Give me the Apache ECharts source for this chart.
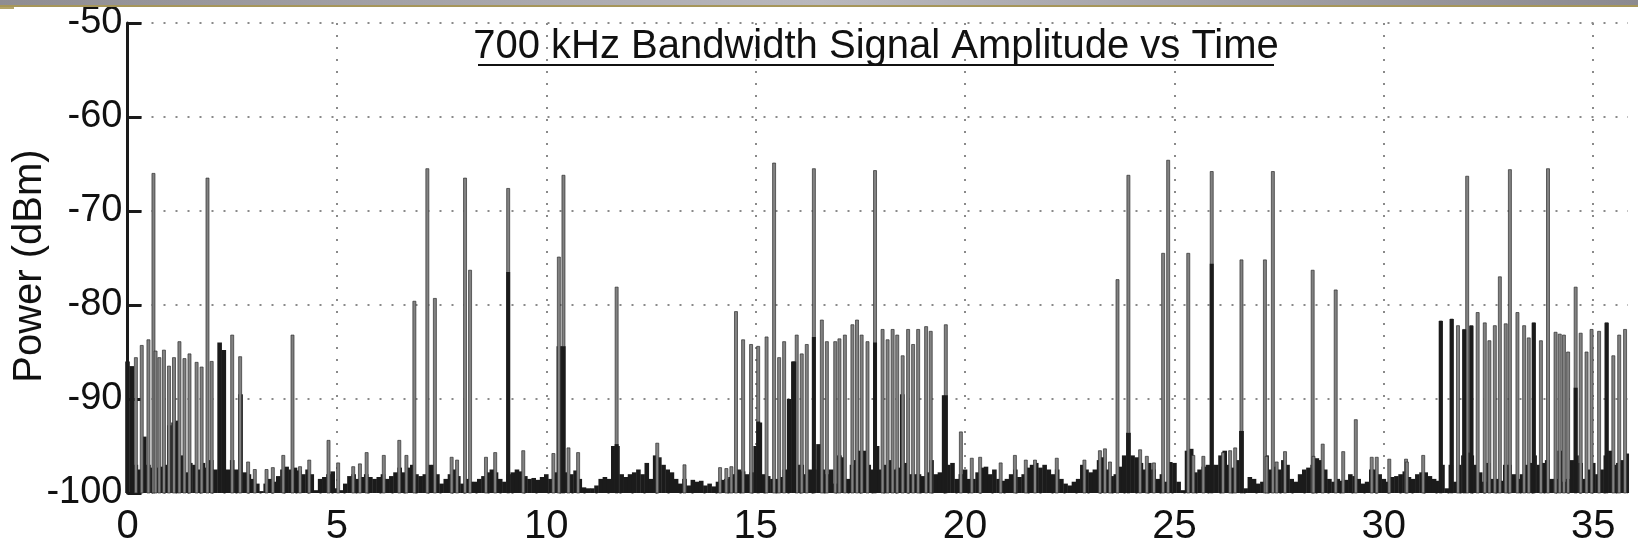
<!DOCTYPE html>
<html>
<head>
<meta charset="utf-8">
<script src="https://cdn.jsdelivr.net/npm/echarts@6/dist/echarts.min.js"></script>
<style>
html,body{margin:0;padding:0;background:#fff;}
#chart{width:1638px;height:553px;}
</style>
</head>
<body>
<div id="chart"></div>
<script>
// ---- data ----
const titleText = '700 kHz Bandwidth Signal Amplitude vs Time';
const yAxisName = 'Power (dBm)';
const xTicks = [0, 5, 10, 15, 20, 25, 30, 35];
const yTicks = [-100, -90, -80, -70, -60, -50];
const floorStep = 0.1; // seconds between noise-floor samples (t = 0.0 ... 35.8)

// noise floor (top of the black fill), one row per second
const floor00 = [-86,-86.5,-97,-97.5,-94,-97,-97.3,-97.3,-97.2,-97];
const floor01 = [-92.8,-92.5,-92.3,-96,-97.8,-96.8,-97,-97.5,-96.8,-97.3];
const floor02 = [-96.5,-97.5,-84,-84.8,-97.5,-96.5,-97.5,-89.5,-97.8,-98];
const floor03 = [-98.5,-99,-99.8,-99,-98.5,-98.8,-98.2,-97.5,-97.2,-97.5];
const floor04 = [-97.3,-97.6,-98,-97.5,-98,-99.7,-98.5,-98.3,-98,-97.7];
const floor05 = [-99.5,-99.7,-99,-98.2,-98,-98.5,-98.3,-98,-98.3,-98.5];
const floor06 = [-98.3,-98,-98.5,-98.2,-97.8,-97.3,-97.8,-97.3,-97,-98];
const floor07 = [-98.2,-98,-97,-97,-98,-99,-98.5,-98,-97.5,-98.2];
const floor08 = [-99,-98.5,-98.8,-98.8,-98.5,-98.2,-97.8,-97.5,-97.8,-98.5];
const floor09 = [-98.8,-98,-97.8,-97.5,-97.7,-98.2,-98.5,-98.4,-98.6,-98.3];
const floor10 = [-98,-98.5,-97.8,-84.4,-84.4,-97.8,-98,-97.6,-98.5,-99.4];
const floor11 = [-99.5,-99.5,-99.2,-98.5,-98.3,-98.5,-95,-95,-98,-98.3];
const floor12 = [-98,-97.8,-97.5,-98,-96.8,-98.5,-96,-96.2,-97,-97.5];
const floor13 = [-97.8,-98.5,-99,-98.5,-99.2,-98.6,-98.8,-98.7,-99.2,-99];
const floor14 = [-99.3,-98.8,-98.6,-98.5,-98.3,-98,-97.5,-97.7,-98,-97.8];
const floor15 = [-95,-92.5,-98,-98.2,-98.5,-98.5,-98.3,-97.5,-90,-86];
const floor16 = [-97,-97,-98,-97.5,-97.5,-94.8,-97.5,-98,-97.5,-99];
const floor17 = [-96,-96.2,-98.5,-97,-96.5,-95.5,-95.5,-97,-97.5,-95];
const floor18 = [-97.5,-97,-96.5,-97.5,-97.3,-89.5,-96.8,-98,-98,-98];
const floor19 = [-98.2,-97.8,-96.5,-98,-97.8,-89.6,-97,-96.8,-98.5,-98];
const floor20 = [-97.5,-98.5,-98.5,-97.8,-97.3,-97.2,-98,-97.5,-98.5,-98.7];
const floor21 = [-98.5,-98,-97.5,-98.3,-98,-97.3,-97,-96.8,-97.3,-97];
const floor22 = [-97.5,-98,-97.5,-98.5,-99,-99.2,-98.8,-98.5,-97,-97.5];
const floor23 = [-97.8,-97.5,-96.5,-96.2,-97.5,-98.2,-98,-97.2,-96,-93.6];
const floor24 = [-96,-96.2,-96.8,-97.5,-96.8,-97.5,-98.5,-98,-98.8,-96.7];
const floor25 = [-96.8,-98.8,-99.7,-95.5,-95.3,-97.8,-97.5,-97.2,-97,-97];
const floor26 = [-97,-96,-95.5,-97,-97.3,-96.5,-93.4,-99.5,-98.3,-98.5];
const floor27 = [-99,-98.8,-96,-97.5,-97.2,-97.5,-96.5,-97,-98.5,-98.8];
const floor28 = [-98,-97.5,-97.3,-97,-96.3,-96.5,-97.5,-98.5,-98.8,-98.5];
const floor29 = [-98.7,-98.6,-98,-98.2,-98.5,-99,-98.8,-97.5,-97.5,-98];
const floor30 = [-98.5,-98.8,-98.3,-98.2,-98,-97.7,-98.3,-98.5,-98,-97.8];
const floor31 = [-97.8,-98.2,-98.5,-98.7,-97,-99.5,-97,-98.8,-97,-96];
const floor32 = [-95.7,-96,-97,-97.8,-98.8,-96.8,-98.5,-98.5,-98.7,-97];
const floor33 = [-97,-98,-98.5,-98,-97,-96.8,-96,-97,-96.8,-96.5];
const floor34 = [-98.5,-98.5,-95.5,-98.8,-98.5,-96.5,-96,-96.8,-98.5,-97.5];
const floor35 = [-96.8,-98,-97.5,-96,-95.5,-97,-96.8,-96.5,-95.8];

// thin grey stems: [time (s), power (dBm)]
const spikesA = [[0.20,-85.6],[0.34,-84.3],[0.50,-83.7],[0.62,-66.0],[0.67,-84.9],[0.76,-85.6],[0.87,-84.8],[0.99,-86.5],[1.11,-85.6],[1.24,-83.9],[1.36,-85.7],[1.48,-85.2],[1.65,-86.1],[1.77,-86.6],[1.91,-66.5],[2.01,-86.0],[2.50,-83.2],[2.69,-85.5],[2.88,-96.7],[3.04,-97.5],[3.32,-97.5],[3.47,-97.3],[3.72,-96.0],[3.94,-83.2],[4.12,-97.2],[4.34,-96.5],[4.80,-94.4],[5.03,-96.8],[5.39,-97.2],[5.55,-96.9],[5.71,-95.7],[6.12,-96.0],[6.49,-94.4],[6.66,-96.0],[6.85,-79.6],[7.16,-65.5],[7.34,-79.3],[7.74,-96.2],[7.87,-96.5],[8.06,-66.5],[8.18,-76.3],[8.56,-96.2],[8.78,-95.7],[9.09,-67.6],[9.45,-95.5],[10.17,-95.8],[10.30,-74.9],[10.41,-66.2],[10.53,-95.2],[10.76,-95.7],[11.68,-78.1],[12.65,-94.7],[13.30,-97.0],[14.15,-97.3],[14.30,-97.4],[14.42,-97.2]];
const spikesB = [[14.53,-80.7],[14.70,-83.7],[14.89,-84.2],[15.06,-84.4],[15.26,-83.4],[15.44,-64.9],[15.56,-85.6],[15.68,-83.9],[15.98,-83.2],[16.10,-85.2],[16.22,-84.2],[16.39,-65.5],[16.58,-81.6],[16.70,-83.9],[16.90,-83.9],[17.00,-83.6],[17.13,-83.2],[17.31,-82.1],[17.42,-81.6],[17.53,-83.2],[17.67,-83.9],[17.85,-65.7],[18.03,-82.6],[18.15,-83.7],[18.27,-82.6],[18.38,-83.2],[18.51,-85.4],[18.64,-82.6],[18.76,-84.2],[18.88,-82.6],[19.07,-82.3],[19.18,-82.8],[19.54,-82.1],[19.90,-93.5]];
const spikesC = [[20.16,-96.3],[20.36,-96.2],[20.85,-96.8],[21.19,-96.0],[21.45,-96.5],[21.67,-96.5],[22.19,-96.3],[22.85,-96.5],[23.22,-95.5],[23.34,-95.3],[23.46,-96.7],[23.64,-77.3],[23.90,-66.2],[24.18,-95.4],[24.34,-96.1],[24.51,-96.8],[24.73,-74.5],[24.85,-64.6],[25.33,-74.5],[25.45,-96.0],[25.69,-96.1],[25.89,-65.8],[26.16,-95.7],[26.33,-95.5],[26.45,-95.2],[26.60,-75.2],[27.16,-75.2],[27.20,-96.1],[27.35,-65.8],[27.44,-96.7],[27.64,-95.6],[28.30,-76.3],[28.32,-96.1],[28.54,-94.8],[28.85,-78.4],[29.03,-95.6],[29.33,-92.2],[29.71,-96.2],[29.83,-96.2],[30.13,-96.4],[30.53,-96.4],[30.55,-96.7],[30.94,-96.0]];
const spikesD = [[31.36,-81.7],[31.62,-81.5],[31.77,-82.2],[31.92,-82.6],[31.99,-66.3],[32.09,-82.2],[32.24,-80.8],[32.41,-81.9],[32.52,-83.8],[32.65,-82.2],[32.77,-77.0],[32.91,-82.0],[33.01,-65.6],[33.19,-80.8],[33.35,-82.2],[33.46,-83.5],[33.58,-81.9],[33.75,-83.8],[33.92,-65.5],[34.10,-82.9],[34.20,-83.1],[34.30,-83.2],[34.40,-85.0],[34.58,-78.1],[34.70,-83.0],[34.84,-85.0],[34.96,-82.6],[35.14,-82.8],[35.32,-81.9],[35.48,-85.4],[35.62,-83.2],[35.76,-82.6]];

// solid black sections under some stems: [time (s), power (dBm)]
const darkStems = [[9.09,-76.5],[10.41,-84.4],[11.68,-94.8],[15.06,-92.4],[15.92,-86.0],[16.39,-83.4],[17.85,-84.0],[19.54,-89.6],[23.90,-93.6],[25.89,-75.6],[26.60,-93.4],[31.36,-81.7],[31.62,-81.5],[31.92,-82.6],[32.09,-82.2],[33.58,-81.9],[34.58,-88.8],[35.32,-81.9]];

// ---- build options ----
const floorRows = [floor00,floor01,floor02,floor03,floor04,floor05,floor06,floor07,floor08,floor09,
  floor10,floor11,floor12,floor13,floor14,floor15,floor16,floor17,floor18,floor19,
  floor20,floor21,floor22,floor23,floor24,floor25,floor26,floor27,floor28,floor29,
  floor30,floor31,floor32,floor33,floor34,floor35];
const floorData = [];
floorRows.forEach((row, s) => row.forEach((v, k) => floorData.push([+(s + k * floorStep).toFixed(1), v])));
const spikeData = spikesA.concat(spikesB, spikesC, spikesD);

const Y_MIN = yTicks[0], Y_MAX = yTicks[yTicks.length - 1];
const X_MAX = 35.83;
const FONT = "'Liberation Sans', Arial, sans-serif";

function stemRenderer(widthFn, fill, stroke, lw) {
  return function (params, api) {
    const t = api.value(0), v = api.value(1);
    const top = api.coord([t, v]);
    const bot = api.coord([t, Y_MIN]);
    const w = widthFn(api);
    return {
      type: 'rect',
      shape: { x: top[0] - w / 2, y: top[1], width: w, height: bot[1] - top[1] },
      style: { fill: fill, stroke: stroke, lineWidth: lw }
    };
  };
}

const chart = echarts.init(document.getElementById('chart'), null, { renderer: 'canvas' });
chart.setOption({
  backgroundColor: '#ffffff',
  animation: false,
  grid: { left: 127.5, right: 10, top: 23, bottom: 60, containLabel: false, outerBoundsMode: 'none' },
  xAxis: {
    type: 'value', min: 0, max: X_MAX, interval: 5,
    axisLine: { show: false }, axisTick: { show: false },
    axisLabel: { fontSize: 40, color: '#111', fontFamily: FONT, margin: 14, showMaxLabel: false,
      formatter: v => (xTicks.indexOf(v) >= 0 ? String(v) : '') },
    splitLine: { show: true, showMaxLine: false, lineStyle: { type: [2, 10], color: '#8a8a8a', width: 2 } }
  },
  yAxis: {
    type: 'value', min: Y_MIN, max: Y_MAX, interval: 10,
    axisLine: { show: true, lineStyle: { color: '#1a1a1a', width: 3 } },
    axisTick: { show: true, inside: true, length: 14, lineStyle: { color: '#1a1a1a', width: 3 } },
    axisLabel: { fontSize: 38, color: '#111', fontFamily: FONT, margin: 5 },
    splitLine: { show: true, lineStyle: { type: [2, 10], color: '#8a8a8a', width: 2 } }
  },
  series: [
    { type: 'custom', name: 'floor', z: 2, data: floorData,
      renderItem: stemRenderer(api => api.size([floorStep, 0])[0] + 0.4, '#1b1b1b', null, 0) },
    { type: 'custom', name: 'stems', z: 3, data: spikeData,
      renderItem: stemRenderer(() => 3, '#828282', '#2e2e2e', 0.7) },
    { type: 'custom', name: 'dark', z: 4, data: darkStems,
      renderItem: stemRenderer(() => 4, '#1b1b1b', null, 0) }
  ],
  graphic: [
    { type: 'rect', left: 0, top: 0, z: 100, shape: { width: 1638, height: 5 },
      style: { fill: new echarts.graphic.LinearGradient(0, 0, 1, 0, [
        { offset: 0, color: '#8f8d92' }, { offset: 0.5, color: '#b9b8bd' }, { offset: 1, color: '#8c8a90' }]) } },
    { type: 'rect', left: 0, top: 5, z: 100, shape: { width: 1638, height: 2 }, style: { fill: '#a6965a' } },
    { type: 'rect', left: 0, top: 7, z: 100, shape: { width: 14, height: 2 }, style: { fill: '#b3a468' } },
    { type: 'text', x: 876, y: 47, z: 100,
      style: { text: titleText, fontSize: 40, fontFamily: FONT, fill: '#111', align: 'center', verticalAlign: 'middle' } },
    { type: 'line', z: 100, shape: { x1: 478, y1: 65, x2: 1274, y2: 65 }, style: { stroke: '#111', lineWidth: 2 } },
    { type: 'text', x: 30, y: 266, rotation: Math.PI / 2, z: 100,
      style: { text: yAxisName, fontSize: 40, fontFamily: FONT, fill: '#111', align: 'center', verticalAlign: 'middle' } }
  ]
});
</script>
</body>
</html>
